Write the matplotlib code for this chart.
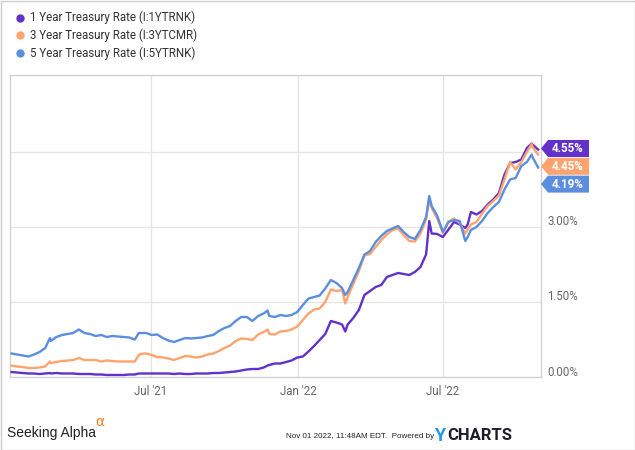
import matplotlib
matplotlib.use("Agg")
import matplotlib.pyplot as plt
import matplotlib.dates as mdates
from matplotlib.patches import Polygon, Rectangle
from matplotlib.lines import Line2D
import numpy as np

# ---------------- data ----------------
dates = ["2021-01-08","2021-01-15","2021-01-22","2021-01-29","2021-02-05","2021-02-12","2021-02-19",
         "2021-02-25","2021-02-26","2021-03-05","2021-03-12","2021-03-19","2021-03-26","2021-04-02",
         "2021-04-09","2021-04-16","2021-04-23","2021-04-30","2021-05-07","2021-05-14","2021-05-21",
         "2021-05-28","2021-06-04","2021-06-11","2021-06-16","2021-06-18","2021-06-25","2021-07-02",
         "2021-07-09","2021-07-16","2021-07-23","2021-07-30","2021-08-06","2021-08-13","2021-08-20",
         "2021-08-27","2021-09-03","2021-09-10","2021-09-17","2021-09-24","2021-10-01","2021-10-08",
         "2021-10-15","2021-10-22","2021-10-29","2021-11-05","2021-11-12","2021-11-19","2021-11-24",
         "2021-11-26","2021-12-03","2021-12-10","2021-12-17","2021-12-24","2021-12-31","2022-01-07",
         "2022-01-14","2022-01-21","2022-01-28","2022-02-04","2022-02-11","2022-02-18","2022-02-25",
         "2022-03-01","2022-03-04","2022-03-11","2022-03-18","2022-03-25","2022-04-01","2022-04-08",
         "2022-04-15","2022-04-22","2022-04-29","2022-05-06","2022-05-13","2022-05-20","2022-05-27",
         "2022-06-03","2022-06-10","2022-06-14","2022-06-17","2022-06-24","2022-07-01","2022-07-08",
         "2022-07-15","2022-07-22","2022-07-29","2022-08-01","2022-08-05","2022-08-12","2022-08-19",
         "2022-08-26","2022-09-02","2022-09-09","2022-09-16","2022-09-23","2022-09-30","2022-10-07",
         "2022-10-14","2022-10-20","2022-10-21","2022-10-28"]

rate_5y = [0.47,0.45,0.43,0.41,0.45,0.50,0.58,
           0.78,0.72,0.80,0.84,0.86,0.88,0.95,
           0.88,0.86,0.82,0.84,0.80,0.82,0.81,
           0.80,0.79,0.75,0.88,0.88,0.88,0.84,
           0.85,0.78,0.73,0.70,0.74,0.78,0.77,
           0.78,0.79,0.82,0.84,0.92,0.98,1.02,
           1.12,1.20,1.20,1.12,1.22,1.27,1.33,
           1.22,1.20,1.24,1.22,1.24,1.30,1.44,
           1.57,1.60,1.63,1.77,1.94,1.88,1.78,
           1.64,1.70,1.94,2.18,2.45,2.52,2.70,
           2.82,2.92,2.97,3.02,2.90,2.80,2.76,
           2.94,3.20,3.62,3.42,3.22,2.90,3.10,
           3.14,3.12,2.72,2.80,2.94,3.00,3.12,
           3.28,3.40,3.50,3.75,3.95,3.98,4.22,
           4.30,4.45,4.40,4.19]

rate_3y = [0.23,0.21,0.20,0.18,0.18,0.19,0.21,
           0.31,0.28,0.30,0.32,0.33,0.34,0.38,
           0.34,0.34,0.34,0.31,0.33,0.32,0.31,
           0.31,0.31,0.31,0.44,0.46,0.47,0.44,
           0.40,0.39,0.37,0.34,0.38,0.42,0.41,
           0.39,0.41,0.45,0.47,0.52,0.58,0.63,
           0.72,0.77,0.76,0.74,0.85,0.90,0.95,
           0.86,0.85,0.91,0.92,0.95,1.01,1.14,
           1.27,1.35,1.37,1.50,1.75,1.72,1.74,
           1.47,1.60,1.86,2.12,2.43,2.46,2.60,
           2.74,2.85,2.94,2.97,2.84,2.72,2.71,
           2.87,3.15,3.55,3.38,3.17,2.88,3.11,
           3.17,3.08,2.87,2.95,3.05,3.10,3.27,
           3.42,3.52,3.63,3.95,4.30,4.15,4.30,
           4.50,4.66,4.60,4.45]

rate_1y = [0.10,0.09,0.08,0.07,0.07,0.06,0.07,
           0.08,0.07,0.08,0.07,0.07,0.07,0.06,
           0.06,0.06,0.05,0.05,0.04,0.04,0.04,
           0.04,0.05,0.05,0.07,0.07,0.07,0.07,
           0.07,0.07,0.07,0.06,0.07,0.06,0.06,
           0.07,0.07,0.07,0.08,0.08,0.09,0.10,
           0.11,0.13,0.15,0.16,0.16,0.19,0.23,
           0.24,0.27,0.27,0.30,0.33,0.39,0.41,
           0.51,0.62,0.74,0.86,1.12,1.09,1.05,
           0.91,1.05,1.18,1.34,1.64,1.72,1.80,
           1.84,2.00,2.04,2.08,2.06,2.04,2.10,
           2.20,2.45,3.12,2.87,2.86,2.80,2.95,
           3.10,3.05,2.98,3.05,3.30,3.25,3.32,
           3.45,3.55,3.68,4.05,4.28,4.30,4.35,
           4.58,4.67,4.65,4.55]

series_names = ["1 Year Treasury Rate (I:1YTRNK)",
                "3 Year Treasury Rate (I:3YTCMR)",
                "5 Year Treasury Rate (I:5YTRNK)"]
series_values = [rate_1y, rate_3y, rate_5y]
series_colors = ["#6131c9", "#ffa46e", "#5b8ede"]

ytick_values = [0.0, 1.5, 3.0, 4.5]
xtick_dates = ["2021-07-01", "2022-01-01", "2022-07-01"]
xtick_labels = ["Jul '21", "Jan '22", "Jul '22"]
x_start, x_end = "2021-01-06", "2022-10-31"
y_max = 6.04

# ---------------- figure ----------------
W, H = 635, 450
fig = plt.figure(figsize=(W / 100, H / 100), dpi=100)
fig.patch.set_facecolor("white")

def fx(x):
    return x / W

def fy(y):
    return 1 - y / H

L, R, T, B = 10, 540.5, 75, 377
ax = fig.add_axes([fx(L), fy(B), fx(R) - fx(L), fy(T) - fy(B)])

xd = mdates.datestr2num(dates)
for idx in [1, 2, 0]:
    ax.plot(xd, series_values[idx], color=series_colors[idx], lw=1.7,
            solid_joinstyle="round", zorder=3 + idx * 0.1)

ax.set_xlim(mdates.datestr2num(x_start), mdates.datestr2num(x_end))
ax.set_ylim(0, y_max)
ax.set_yticks(ytick_values)
ax.set_xticks(mdates.datestr2num(xtick_dates))
ax.set_xticklabels(xtick_labels, fontsize=8.3, color="#666666", family=["Roboto", "DejaVu Sans"])
ax.tick_params(axis="x", length=0, pad=6)
ax.tick_params(axis="y", length=0, labelleft=False, labelright=False)
ax.grid(True, color="#e4e4e4", lw=0.9)
ax.set_axisbelow(True)
for s in ax.spines.values():
    s.set_color("#cfcfcf")
    s.set_linewidth(0.9)

fig.canvas.draw()

# end-value tags (stacked to avoid overlap)
last_vals = [s[-1] for s in series_values]
order = sorted(range(3), key=lambda i: -last_vals[i])
prev = None
tag_spans = []
for i in order:
    yd = ax.transData.transform((0, last_vals[i]))[1]
    yc = H - yd - 1
    if prev is not None and yc < prev + 17.8:
        yc = prev + 17.8
    prev = yc
    hh = 8.5
    tag_spans.append((yc - hh, yc + hh))
    pts = [(541, yc), (548, yc - hh), (589, yc - hh), (589, yc + hh), (548, yc + hh)]
    poly = Polygon([(fx(a), fy(b)) for a, b in pts], closed=True, transform=fig.transFigure,
                   facecolor=series_colors[i], edgecolor="none", zorder=5)
    fig.patches.append(poly)
    fig.text(fx(567.5), fy(yc), f"{last_vals[i]:.2f}%", color="white", fontsize=8.4,
             fontweight="bold", ha="center", va="center", family=["Roboto", "DejaVu Sans"], zorder=6)

# y tick labels (right side, slightly above gridline); hidden where a tag covers them
for v in ytick_values:
    ypix = H - ax.transData.transform((0, v))[1] - 5
    if any(a - 6 <= ypix <= b + 6 for a, b in tag_spans):
        continue
    ax.text(1 + (547 - R) / (R - L), v + 5 / 50, f"{v:.2f}%",
            transform=ax.get_yaxis_transform(), ha="left", va="center",
            fontsize=8.3, color="#666666", family=["Roboto", "DejaVu Sans"], clip_on=False)

# legend
for k, (name, col) in enumerate(zip(series_names, series_colors)):
    yl = 17.7 + k * 17.7
    fig.add_artist(Line2D([fx(20)], [fy(yl)], marker="o", ms=5.0, color=col, mec=col,
                          transform=fig.transFigure))
    fig.text(fx(30), fy(yl), name, fontsize=8.3, color="#333333", ha="left", va="center",
             family=["Roboto", "DejaVu Sans"])

# footer
fig.text(fx(7), fy(433), "Seeking Alpha", fontsize=10, color="#222222", ha="left", va="center",
         family=["Liberation Sans Narrow", "Liberation Sans", "DejaVu Sans"])
fig.text(fx(95), fy(422), "\u03b1", fontsize=10, color="#f47a20", ha="left", va="center",
         family=["DejaVu Sans"])
fig.text(fx(434), fy(437), "Nov 01 2022, 11:48AM EDT.  Powered by", fontsize=5.8, color="#222222",
         ha="right", va="center", family=["Liberation Sans Narrow", "Liberation Sans", "DejaVu Sans"])
fig.text(fx(435), fy(436), "Y", fontsize=13, color="#1e9be0", ha="left", va="center",
         fontweight="bold", family=["Roboto", "DejaVu Sans"])
fig.text(fx(447.5), fy(436), "CHARTS", fontsize=12, color="#1c1c2a", ha="left", va="center",
         fontweight="bold", family=["Roboto", "DejaVu Sans"])

# outer frame
fig.patches.append(Rectangle((0.5 / W, 0.5 / H), 1 - 1.0 / W, 1 - 1.0 / H, transform=fig.transFigure,
                             facecolor="none", edgecolor="#cccccc", lw=1.0, zorder=10))

fig.savefig("out.png", dpi=100, facecolor="white")
